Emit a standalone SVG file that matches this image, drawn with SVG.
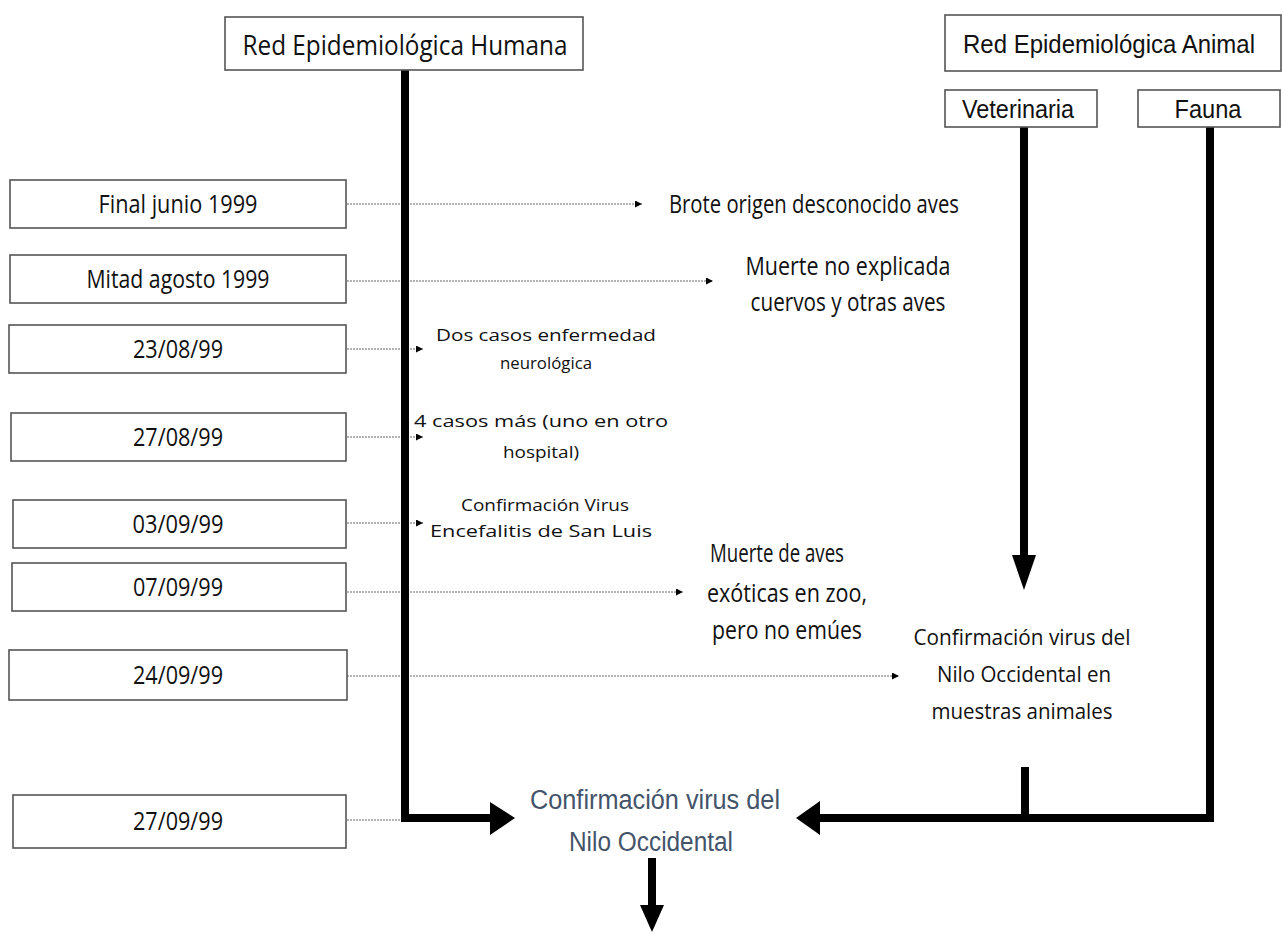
<svg xmlns="http://www.w3.org/2000/svg" width="1282" height="936" viewBox="0 0 1282 936">
<defs>
<style>
.box{fill:#fff;stroke:#555;stroke-width:1.6}
.os{font-family:"Open Sans","DejaVu Sans",sans-serif;fill:#111}
.ls{font-family:"Liberation Sans",Arial,sans-serif;fill:#111}
.dot{stroke:#9a9a9a;stroke-width:1.3;stroke-dasharray:2 1;fill:none}
.thick{stroke:#000;stroke-width:8;fill:none;stroke-linejoin:miter;stroke-linecap:butt}
.head{fill:#000}
</style>
<marker id="sm" markerUnits="userSpaceOnUse" markerWidth="8" markerHeight="8" refX="7" refY="3.5" orient="auto">
<path d="M0,0 L7,3.5 L0,7 z" fill="#000"/>
</marker>
</defs>
<rect width="1282" height="936" fill="#fff"/>

<g id="connectors">
<line class="dot" x1="347" y1="204" x2="642" y2="204" marker-end="url(#sm)"/>
<line class="dot" x1="347" y1="281" x2="713" y2="281" marker-end="url(#sm)"/>
<line class="dot" x1="347" y1="349" x2="423" y2="349" marker-end="url(#sm)"/>
<line class="dot" x1="347" y1="437" x2="423" y2="437" marker-end="url(#sm)"/>
<line class="dot" x1="347" y1="523" x2="423" y2="523" marker-end="url(#sm)"/>
<line class="dot" x1="347" y1="592" x2="683" y2="592" marker-end="url(#sm)"/>
<line class="dot" x1="347" y1="676" x2="899" y2="676" marker-end="url(#sm)"/>
<line class="dot" x1="347" y1="820" x2="404" y2="820"/>
<path class="thick" d="M405,70 V818 H491"/>
<polygon class="head" points="490,802 515,818 490,835"/>
<path class="thick" d="M1024,127 V556"/>
<polygon class="head" points="1012,555 1036,555 1024,590"/>
<path class="thick" d="M1210,127 V818 H819"/>
<polygon class="head" points="820,801 796,818 820,835"/>
<path class="thick" d="M1025,767 V818"/>
<path class="thick" d="M652,858 V906"/>
<polygon class="head" points="640,905 664,905 652,932"/>
</g>

<g id="n-human">
<rect class="box" x="225" y="17" width="358" height="53"/>
<text class="os" x="405" y="55" font-size="28" text-anchor="middle" textLength="325" lengthAdjust="spacingAndGlyphs">Red Epidemiológica Humana</text>
</g>
<g id="n-animal">
<rect class="box" x="945" y="15" width="336" height="56"/>
<text class="ls" x="1109" y="53" font-size="26" text-anchor="middle" textLength="292" lengthAdjust="spacingAndGlyphs">Red Epidemiológica Animal</text>
</g>
<g id="n-vet">
<rect class="box" x="945" y="90" width="152" height="37"/>
<text class="ls" x="1018" y="118" font-size="25" text-anchor="middle" textLength="112" lengthAdjust="spacingAndGlyphs">Veterinaria</text>
</g>
<g id="n-fauna">
<rect class="box" x="1138" y="90" width="142" height="37"/>
<text class="ls" x="1208" y="118" font-size="25" text-anchor="middle" textLength="67" lengthAdjust="spacingAndGlyphs">Fauna</text>
</g>

<g id="d1"><rect class="box" x="10" y="180" width="336" height="48"/><text class="os" x="178" y="213" font-size="25" text-anchor="middle" textLength="159" lengthAdjust="spacingAndGlyphs">Final junio 1999</text></g>
<g id="d2"><rect class="box" x="10" y="255" width="336" height="48"/><text class="os" x="178" y="288" font-size="25" text-anchor="middle" textLength="183" lengthAdjust="spacingAndGlyphs">Mitad agosto 1999</text></g>
<g id="d3"><rect class="box" x="9" y="325" width="337" height="48"/><text class="os" x="178" y="358" font-size="25" text-anchor="middle" textLength="90" lengthAdjust="spacingAndGlyphs">23/08/99</text></g>
<g id="d4"><rect class="box" x="11" y="413" width="335" height="48"/><text class="os" x="178" y="446" font-size="25" text-anchor="middle" textLength="90" lengthAdjust="spacingAndGlyphs">27/08/99</text></g>
<g id="d5"><rect class="box" x="13" y="500" width="333" height="48"/><text class="os" x="178" y="533" font-size="25" text-anchor="middle" textLength="91" lengthAdjust="spacingAndGlyphs">03/09/99</text></g>
<g id="d6"><rect class="box" x="12" y="563" width="334" height="48"/><text class="os" x="178" y="596" font-size="25" text-anchor="middle" textLength="90" lengthAdjust="spacingAndGlyphs">07/09/99</text></g>
<g id="d7"><rect class="box" x="9" y="650" width="338" height="50"/><text class="os" x="178" y="684" font-size="25" text-anchor="middle" textLength="90" lengthAdjust="spacingAndGlyphs">24/09/99</text></g>
<g id="d8"><rect class="box" x="13" y="795" width="333" height="53"/><text class="os" x="178" y="830" font-size="25" text-anchor="middle" textLength="90" lengthAdjust="spacingAndGlyphs">27/09/99</text></g>

<g id="e1"><text class="os" x="814" y="213" font-size="26" text-anchor="middle" textLength="290" lengthAdjust="spacingAndGlyphs">Brote origen desconocido aves</text></g>
<g id="e2" class="os" font-size="26" text-anchor="middle">
<text x="848" y="275" textLength="205" lengthAdjust="spacingAndGlyphs">Muerte no explicada</text>
<text x="848" y="311" textLength="195" lengthAdjust="spacingAndGlyphs">cuervos y otras aves</text>
</g>
<g id="e3" class="os" font-size="17" text-anchor="middle">
<text x="546" y="341" textLength="220" lengthAdjust="spacingAndGlyphs">Dos casos enfermedad</text>
<text x="546" y="369" textLength="92" lengthAdjust="spacingAndGlyphs">neurológica</text>
</g>
<g id="e4" class="os" font-size="17" text-anchor="middle">
<text x="541" y="427" textLength="254" lengthAdjust="spacingAndGlyphs">4 casos más (uno en otro</text>
<text x="541" y="458" textLength="76" lengthAdjust="spacingAndGlyphs">hospital)</text>
</g>
<g id="e5" class="os" font-size="17" text-anchor="middle">
<text x="545" y="511" textLength="168" lengthAdjust="spacingAndGlyphs">Confirmación Virus</text>
<text x="541" y="537" textLength="222" lengthAdjust="spacingAndGlyphs">Encefalitis de San Luis</text>
</g>
<g id="e6" class="os" font-size="26" text-anchor="middle">
<text x="777" y="562" textLength="134" lengthAdjust="spacingAndGlyphs">Muerte de aves</text>
<text x="787" y="602" textLength="160" lengthAdjust="spacingAndGlyphs">exóticas en zoo,</text>
<text x="787" y="639" textLength="150" lengthAdjust="spacingAndGlyphs">pero no emúes</text>
</g>
<g id="e7" class="os" font-size="21" text-anchor="middle">
<text x="1022" y="645" textLength="217" lengthAdjust="spacingAndGlyphs">Confirmación virus del</text>
<text x="1024" y="682" textLength="174" lengthAdjust="spacingAndGlyphs">Nilo Occidental en</text>
<text x="1022" y="719" textLength="181" lengthAdjust="spacingAndGlyphs">muestras animales</text>
</g>
<g id="center" class="ls" font-size="27" text-anchor="middle">
<text x="655" y="809" fill="#44546a" textLength="250" lengthAdjust="spacingAndGlyphs">Confirmación virus del</text>
<text x="651" y="851" fill="#44546a" textLength="164" lengthAdjust="spacingAndGlyphs">Nilo Occidental</text>
</g>
</svg>
